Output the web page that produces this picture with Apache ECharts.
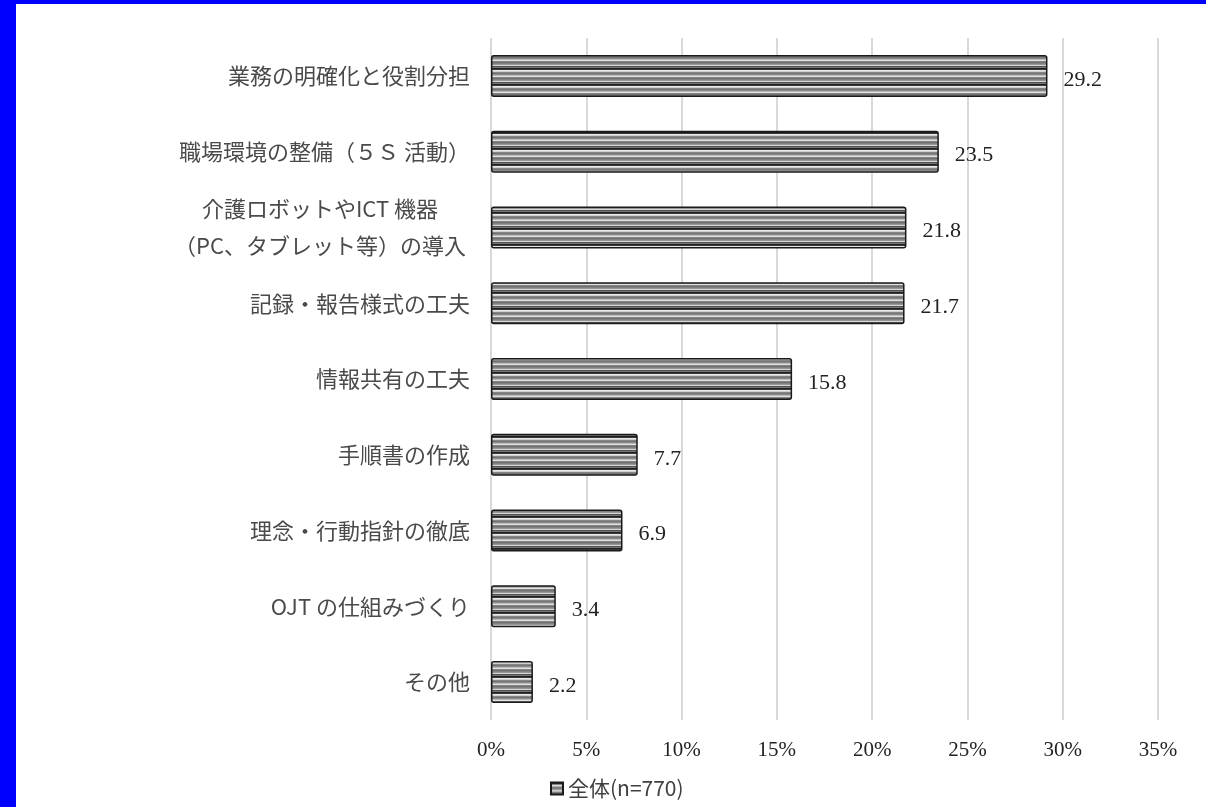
<!DOCTYPE html>
<html>
<head>
<meta charset="utf-8">
<script src="https://cdn.jsdelivr.net/npm/echarts@6/dist/echarts.min.js"></script>
<style>
  html, body { margin: 0; padding: 0; background: #0000ff; width: 1206px; height: 807px; overflow: hidden; }
  #chart { position: absolute; left: 16px; top: 4px; width: 1190px; height: 803px; background: #ffffff; }
</style>
</head>
<body>
<div id="chart"></div>
<script>
const categories = [
  '業務の明確化と役割分担',
  '職場環境の整備（５Ｓ 活動）',
  '介護ロボットやICT 機器\n（PC、タブレット等）の導入',
  '記録・報告様式の工夫',
  '情報共有の工夫',
  '手順書の作成',
  '理念・行動指針の徹底',
  'OJT の仕組みづくり',
  'その他'
];
const values = [29.2, 23.5, 21.8, 21.7, 15.8, 7.7, 6.9, 3.4, 2.2];
const seriesName = '全体(n=770)';
const xTicks = [0, 5, 10, 15, 20, 25, 30, 35];

// striped fill pattern
function makePattern() {
  const c = document.createElement('canvas');
  c.width = 4; c.height = 16;
  const g = c.getContext('2d');
  const rows = ['#1e1e1e','#3a3a3a','#e6e6e6','#d0d0d0','#858585','#767676','#8a8a8a','#b8b8b8',
                '#e2e2e2','#828282','#727272','#808080','#959595','#d8d8d8','#505050','#767676'];
  rows.forEach((col, i) => { g.fillStyle = col; g.fillRect(0, i, 4, 1); });
  return c;
}
const pattern = { image: makePattern(), repeat: 'repeat' };

const chart = echarts.init(document.getElementById('chart'));
chart.setOption({
  animation: false,
  backgroundColor: '#ffffff',
  grid: { left: 475, right: 48, top: 34, bottom: 87, containLabel: false },
  legend: {
    bottom: 3,
    left: 529,
    itemWidth: 12,
    itemHeight: 12,
    itemGap: 4,
    icon: 'rect',
    textStyle: { fontFamily: 'Noto Sans CJK JP', fontSize: 21, color: '#404040' },
    data: [seriesName]
  },
  xAxis: {
    type: 'value',
    min: xTicks[0],
    max: xTicks[xTicks.length - 1],
    interval: 5,
    axisLine: { show: false },
    axisTick: { show: false },
    splitLine: { show: true, lineStyle: { color: '#d9d9d9', width: 2 } },
    axisLabel: {
      margin: 20,
      fontFamily: 'Liberation Serif',
      fontSize: 21,
      color: '#222222',
      formatter: v => v + '%'
    }
  },
  yAxis: {
    type: 'category',
    inverse: true,
    data: categories,
    axisLine: { show: false },
    axisTick: { show: false },
    axisLabel: {
      margin: 21,
      fontFamily: 'Noto Sans CJK JP',
      fontSize: 22,
      color: '#4a4a4a',
      lineHeight: 37,
      formatter: function (v) {
        if (v.indexOf('\n') >= 0) {
          return v.split('\n').map(s => '{c|' + s + '}').join('\n');
        }
        return v;
      },
      rich: {
        c: { width: 300, align: 'center', fontFamily: 'Noto Sans CJK JP', fontSize: 22, color: '#4a4a4a', lineHeight: 37 }
      }
    }
  },
  series: [{
    name: seriesName,
    type: 'bar',
    data: values,
    barWidth: 42,
    itemStyle: { color: pattern, borderColor: '#1a1a1a', borderWidth: 1.5, borderRadius: 2 },
    label: {
      show: true,
      position: 'right',
      distance: 16,
      offset: [0, 4],
      fontFamily: 'Liberation Serif',
      fontSize: 22,
      color: '#222222',
      formatter: p => p.value.toFixed(1)
    }
  }]
});
</script>
</body>
</html>
